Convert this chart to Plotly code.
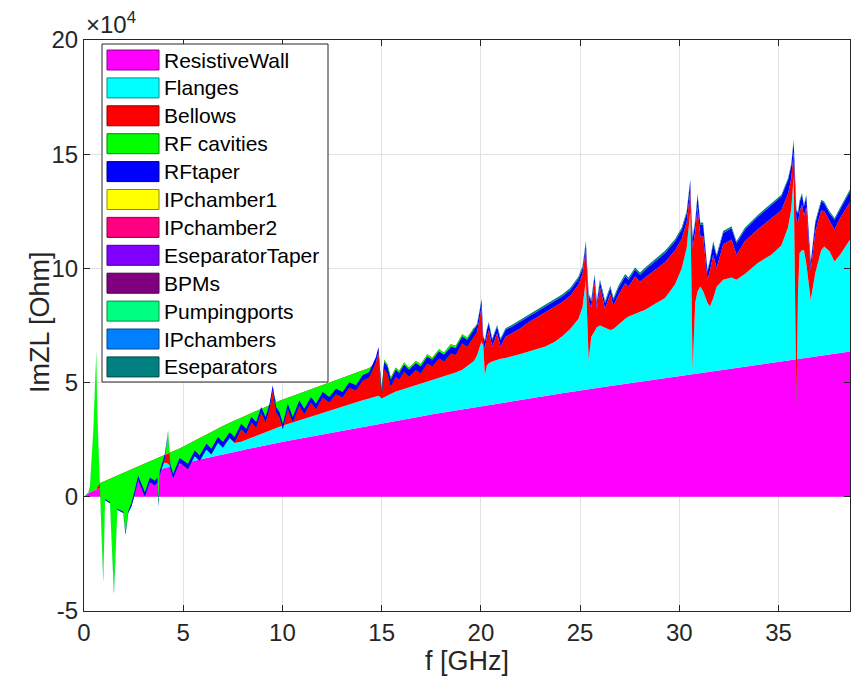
import plotly.graph_objects as go

# ---------------- data (impedance in units of 1e4 Ohm) ----------------
FREQ = [
    0.00, 0.22, 0.30, 0.47, 0.56, 0.62, 0.67, 0.80, 0.97, 1.06,
    1.31, 1.51, 1.68, 1.98, 2.09, 2.23, 2.39, 2.56, 2.73, 3.07,
    3.32, 3.57, 3.70, 3.75, 3.82, 4.07, 4.24, 4.35, 4.49, 4.82,
    5.24, 5.58, 5.83, 6.17, 6.42, 6.75, 7.00, 7.34, 7.59, 7.92,
    8.18, 8.43, 8.68, 8.93, 9.15, 9.35, 9.51, 9.68, 9.85, 10.02,
    10.27, 10.52, 10.85, 11.10, 11.44, 11.69, 12.03, 12.36, 12.70, 13.03,
    13.37, 13.70, 14.04, 14.37, 14.71, 14.84, 15.00,
    15.13, 15.29, 15.46, 15.71, 15.88, 16.13, 16.38, 16.72, 16.97, 17.30,
    17.55, 17.89, 18.14, 18.48, 18.73, 19.06, 19.31, 19.65,
    19.81, 19.95, 20.03, 20.12, 20.20, 20.30, 20.40, 20.57, 20.82, 20.99,
    21.24, 21.57, 22.00,
    22.41, 22.80, 23.25, 23.70, 24.09, 24.50, 24.92, 25.12, 25.29, 25.36, 25.43,
    25.56, 25.73, 25.84, 26.00, 26.26, 26.52, 26.68,
    26.93, 27.27, 27.44, 27.77, 28.02, 28.28, 28.78, 29.28, 29.78, 30.12,
    30.37, 30.55, 30.60, 30.67,
    30.80, 30.92, 31.06, 31.20, 31.42, 31.54, 31.71, 31.88, 32.21, 32.63,
    32.88, 33.30, 33.97, 34.64, 35.14, 35.48, 35.64, 35.76, 35.83, 35.90,
    35.98, 36.06, 36.18, 36.28, 36.40, 36.62, 36.85, 37.15, 37.30, 37.57,
    37.82, 38.10, 38.60,
]

RESISTIVE_WALL = [
    0.00, 0.15, 0.19, 0.27, 0.30, 0.33, 0.34, 0.39, 0.45, 0.48,
    0.55, 0.62, 0.67, 0.75, 0.78, 0.82, 0.86, 0.90, 0.95, 1.03,
    1.09, 1.15, 1.18, 1.18, 1.20, 1.26, 1.30, 1.32, 1.35, 1.42,
    1.51, 1.58, 1.63, 1.70, 1.75, 1.81, 1.86, 1.93, 1.97, 2.03,
    2.08, 2.13, 2.17, 2.22, 2.26, 2.29, 2.32, 2.35, 2.38, 2.41,
    2.45, 2.50, 2.55, 2.59, 2.65, 2.69, 2.75, 2.80, 2.86, 2.91,
    2.97, 3.02, 3.07, 3.12, 3.18, 3.19, 3.22,
    3.24, 3.26, 3.29, 3.33, 3.36, 3.40, 3.43, 3.48, 3.52, 3.57,
    3.61, 3.66, 3.69, 3.74, 3.78, 3.83, 3.86, 3.91,
    3.93, 3.96, 3.97, 3.98, 3.99, 4.00, 4.02, 4.04, 4.07, 4.10,
    4.13, 4.18, 4.25,
    4.30, 4.36, 4.42, 4.48, 4.53, 4.59, 4.64, 4.67, 4.69, 4.70, 4.71,
    4.72, 4.74, 4.76, 4.79, 4.82, 4.85, 4.87,
    4.90, 4.95, 4.97, 5.01, 5.05, 5.08, 5.14, 5.21, 5.27, 5.32,
    5.35, 5.37, 5.38, 5.39,
    5.40, 5.42, 5.44, 5.45, 5.48, 5.50, 5.52, 5.54, 5.58, 5.63,
    5.66, 5.72, 5.80, 5.88, 5.94, 5.98, 6.00, 6.02, 6.03, 6.03,
    6.04, 6.05, 6.06, 6.07, 6.09, 6.11, 6.14, 6.18, 6.20, 6.23,
    6.26, 6.30, 6.36,
]

FLANGES = [
    0.00, 0.00, 0.00, 0.00, 0.00, 0.00, 0.00, 0.00, 0.00, 0.00,
    0.00, 0.00, 0.00, 0.00, 0.00, 0.00, 0.00, 0.00, 0.00, 0.00,
    0.00, 0.00, 0.00, 0.00, 0.00, 0.24, 0.15, 0.00, 0.00, 0.00,
    0.00, 0.19, 0.00, 0.36, 0.09, 0.55, 0.28, 0.64, 0.39, 0.38,
    0.42, 0.46, 0.50, 0.54, 0.58, 0.62, 0.64, 0.67, 0.70, 0.71,
    0.74, 0.76, 0.79, 0.82, 0.85, 0.88, 0.93, 0.98, 1.02, 1.07,
    1.10, 1.13, 1.16, 1.18, 1.20, 1.23, 1.08,
    1.12, 1.17, 1.21, 1.28, 1.29, 1.32, 1.36, 1.39, 1.42, 1.46,
    1.48, 1.52, 1.56, 1.62, 1.66, 1.73, 1.86, 2.04,
    2.27, 2.64, 2.83, 2.62, 1.35, 1.75, 1.83, 1.88, 1.93, 1.94,
    1.95, 1.96, 2.00,
    2.06, 2.11, 2.16, 2.30, 2.49, 2.76, 3.16, 3.63, 4.81, 3.30, 1.29,
    2.28, 2.56, 2.66, 2.71, 2.58, 2.45, 2.48,
    2.65, 2.85, 2.92, 3.01, 3.07, 3.11, 3.31, 3.49, 4.03, 4.68,
    5.55, 7.13, 4.62, 0.21,
    3.10, 3.58, 3.77, 3.55, 3.02, 2.83, 3.18, 3.66, 3.92, 3.97,
    3.84, 4.03, 4.45, 4.72, 5.06, 5.82, 6.60, 7.98, 2.97, -2.08,
    2.96, 4.62, 4.74, 4.74, 4.11, 2.51, 3.66, 4.62, 4.76, 4.52,
    4.04, 4.30, 4.90,
]

BELLOWS = [
    0.00, 0.00, 0.00, 0.00, 0.00, 0.00, 0.11, 0.21, 0.21, 0.22,
    0.24, 0.25, 0.26, 0.29, 0.31, 0.32, 0.34, 0.36, 0.38, 0.42,
    0.46, 0.49, 0.51, 0.53, 0.53, 0.33, 0.44, 0.62, 0.64, 0.70,
    0.80, 0.70, 0.96, 0.69, 1.02, 0.64, 0.96, 0.67, 0.97, 1.06,
    1.07, 1.07, 1.09, 1.09, 1.10, 1.10, 1.68, 1.12, 1.12, 1.13,
    1.15, 1.16, 1.18, 1.19, 1.21, 1.22, 1.22, 1.22, 1.22, 1.22,
    1.24, 1.27, 1.30, 1.34, 1.50, 1.90, 0.40,
    1.64, 1.37, 0.72, 1.05, 0.87, 1.16, 0.87, 1.08, 0.87, 1.21,
    1.01, 1.28, 1.07, 1.32, 1.17, 1.56, 1.25, 1.46,
    1.03, 1.29, 1.52, 0.10, 1.16, 1.25, 1.45, 0.65, 1.16, 0.53,
    0.93, 1.02, 1.13,
    1.28, 1.38, 1.50, 1.52, 1.50, 1.45, 1.50, 1.45, 1.35, 1.55, 2.55,
    1.30, 2.10, 0.81, 1.68, 0.83, 1.59, 1.02,
    1.29, 1.55, 1.31, 1.62, 1.30, 1.41, 1.50, 1.57, 1.48, 1.29,
    1.12, 0.90, 2.10, 5.30,
    3.10, 3.70, 2.19, 2.41, 1.00, 1.57, 1.90, 0.82, 1.55, 1.66,
    1.10, 1.44, 1.47, 1.60, 1.55, 1.48, 1.35, 1.10, 4.60, 8.15,
    3.00, 1.83, 2.00, 1.49, 2.50, 1.28, 1.80, 1.75, 1.54, 1.35,
    1.40, 1.60, 1.65,
]

RF_CAVITIES = [
    0.00, 0.02, 0.26, 2.66, 4.70, 6.03, 3.21, 0.00, -4.36, -0.85,
    -1.07, -5.09, -1.50, -1.75, -2.75, -1.85, -1.62, -1.16, -0.61, -1.45,
    -0.91, -1.14, -1.05, -2.13, -0.79, -0.17, 0.97, -0.71, -1.19, -0.62,
    -1.10, -0.68, -1.02, -0.67, -1.00, -0.62, -0.94, -0.65, -0.95, -0.51,
    -0.83, -0.41, -0.73, -0.16, -0.69, -0.18, 0.00, -0.45, -0.73, -1.29,
    -0.51, -1.17, -0.54, -0.99, -0.58, -0.96, -0.55, -0.87, -0.61, -0.85,
    -0.53, -0.78, -0.45, -0.42, 0.00, 0.00, -0.34,
    -0.40, -0.40, -0.40, -0.40, -0.40, -0.40, -0.40, -0.40, -0.40, -0.40,
    -0.40, -0.40, -0.40, -0.40, -0.40, -0.40, -0.40, -0.40,
    0.00, 0.00, 0.00, 0.00, 0.00, 0.00, 0.00, 0.00, 0.00, 0.00,
    0.00, 0.00, 0.00,
    0.00, 0.00, 0.00, 0.00, 0.00, 0.00, 0.00, 0.00, 0.00, 0.00, 0.00,
    0.00, 0.00, 0.00, 0.00, 0.00, 0.00, 0.00,
    0.00, 0.00, 0.00, 0.00, 0.00, 0.00, 0.00, 0.00, 0.00, 0.00,
    0.00, 0.00, 0.00, 0.00,
    0.00, 0.00, 0.00, 0.00, 0.00, 0.00, 0.00, 0.00, 0.00, 0.00,
    0.00, 0.00, 0.00, 0.00, 0.00, 0.00, 0.00, 0.00, 0.00, 0.00,
    0.00, 0.00, 0.00, 0.00, 0.00, 0.00, 0.00, 0.00, 0.00, 0.00,
    0.00, 0.00, 0.00,
]

RF_TAPER = [
    0.00, 0.02, 0.02, 0.03, 0.03, 0.04, 0.03, 0.03, 0.10, 0.05,
    0.05, 0.10, 0.05, 0.05, 0.10, 0.08, 0.15, 0.20, 0.20, 0.20,
    0.20, 0.20, 0.20, 0.15, 0.20, 0.20, 0.03, 0.20, 0.20, 0.20,
    0.24, 0.24, 0.24, 0.24, 0.24, 0.24, 0.24, 0.24, 0.24, 0.24,
    0.24, 0.24, 0.24, 0.24, 0.24, 0.24, 0.24, 0.24, 0.24, 0.24,
    0.24, 0.24, 0.24, 0.24, 0.24, 0.24, 0.24, 0.24, 0.24, 0.24,
    0.24, 0.24, 0.24, 0.24, 0.24, 0.24, 0.24,
    0.30, 0.30, 0.30, 0.30, 0.30, 0.30, 0.30, 0.30, 0.30, 0.30,
    0.30, 0.30, 0.30, 0.30, 0.30, 0.30, 0.30, 0.30,
    0.30, 0.30, 0.30, 0.30, 0.30, 0.30, 0.30, 0.30, 0.30, 0.30,
    0.30, 0.30, 0.30,
    0.25, 0.25, 0.25, 0.25, 0.25, 0.25, 0.25, 0.25, 0.25, 0.25, 0.25,
    0.25, 0.25, 0.25, 0.25, 0.25, 0.25, 0.25,
    0.30, 0.30, 0.30, 0.30, 0.30, 0.34, 0.35, 0.40, 0.40, 0.40,
    0.40, 0.40, 0.40, 0.40,
    0.40, 0.48, 0.50, 0.50, 0.35, 0.40, 0.50, 0.50, 0.50, 0.50,
    0.50, 0.50, 0.55, 0.58, 0.60, 0.60, 0.55, 0.46, 0.40, 0.40,
    0.40, 0.40, 0.42, 0.41, 0.45, 0.33, 0.38, 0.38, 0.35, 0.32,
    0.43, 0.40, 0.47,
]

ESEP_FREQ = [0.0, 18.5, 20.0, 23.0, 25.0, 30.0, 35.0, 38.6]
ESEPARATORS = [0.00, 0.00, 0.06, 0.08, 0.10, 0.10, 0.08, 0.08]

ZERO_FREQ = [0.0, 38.6]
ZERO_VALUES = [0.0, 0.0]

NAMES = ["ResistiveWall", "Flanges", "Bellows", "RF cavities", "RFtaper",
         "IPchamber1", "IPchamber2", "EseparatorTaper", "BPMs",
         "Pumpingports", "IPchambers", "Eseparators"]
COLORS = ["#FF00FF", "#00FFFF", "#FF0000", "#00FF00", "#0000FF",
          "#FFFF00", "#FF0080", "#8000FF", "#800080",
          "#00FF80", "#0080FF", "#008080"]

X_TICKS = [0, 5, 10, 15, 20, 25, 30, 35]
Y_TICKS = [-5, 0, 5, 10, 15, 20]

SERIES = {
    "ResistiveWall": (FREQ, RESISTIVE_WALL),
    "Flanges": (FREQ, FLANGES),
    "Bellows": (FREQ, BELLOWS),
    "RF cavities": (FREQ, RF_CAVITIES),
    "RFtaper": (FREQ, RF_TAPER),
    "Eseparators": (ESEP_FREQ, ESEPARATORS),
}

# ---------------- figure ----------------
FONT = "Liberation Sans, Arial, Helvetica, sans-serif"
W, H = 856, 685
L, R, T, B = 84, 850, 40, 611   # plot area in pixels


def px_x(px):
    return (px - L) / (R - L)


def px_y(py):
    return (B - py) / (B - T)


def darker(hexcol, k=0.55):
    r, g, b = (int(hexcol[i:i + 2], 16) for i in (1, 3, 5))
    return "rgb(%d,%d,%d)" % (r * k, g * k, b * k)


fig = go.Figure()
for i, (name, color) in enumerate(zip(NAMES, COLORS)):
    x, y = SERIES.get(name, (ZERO_FREQ, ZERO_VALUES))
    kw = dict(stackgaps="interpolate") if i == 0 else {}
    fig.add_trace(go.Scatter(
        x=x, y=y, name=name, mode="lines", stackgroup="imz",
        line=dict(width=0, color=color), fillcolor=color,
        showlegend=False, hoverinfo="skip", **kw))

axis_common = dict(
    ticks="inside", ticklen=6, tickwidth=1, tickcolor="#262626",
    showline=True, linecolor="#262626", linewidth=1, mirror="allticks",
    showgrid=True, gridcolor="#e2e2e2", gridwidth=1, zeroline=False,
    tickfont=dict(size=24, family=FONT, color="#262626"), automargin=False,
)
fig.update_xaxes(range=[0, 38.6], tickvals=X_TICKS,
                 ticktext=[str(v) for v in X_TICKS], **axis_common)
fig.update_yaxes(range=[-5, 20], tickvals=Y_TICKS,
                 ticktext=[str(v) for v in Y_TICKS], **axis_common)

fig.update_layout(
    width=W, height=H,
    margin=dict(l=L, r=W - R, t=T, b=H - B, pad=0),
    paper_bgcolor="white", plot_bgcolor="white",
    showlegend=False, font=dict(family=FONT, color="#262626"),
)

annotations = [
    dict(text="f [GHz]", x=0.5, y=px_y(661), xref="paper", yref="paper",
         xanchor="center", yanchor="middle", showarrow=False,
         font=dict(size=27, family=FONT, color="#262626")),
    dict(text="ImZL [Ohm]", x=px_x(40), y=px_y(322), xref="paper", yref="paper",
         xanchor="center", yanchor="middle", textangle=-90, showarrow=False,
         font=dict(size=27, family=FONT, color="#262626")),
    dict(text="×10<sup>4</sup>", x=0, y=1, xref="paper", yref="paper",
         xanchor="left", yanchor="bottom", showarrow=False,
         font=dict(size=24, family=FONT, color="#262626")),
]

shapes = [dict(type="rect", xref="paper", yref="paper",
               x0=px_x(102), x1=px_x(328), y0=px_y(382), y1=px_y(44),
               fillcolor="white", line=dict(color="#262626", width=1))]
for i, (name, color) in enumerate(zip(NAMES, COLORS)):
    cy = 60 + 27.9 * i
    shapes.append(dict(type="rect", xref="paper", yref="paper",
                       x0=px_x(107), x1=px_x(159), y0=px_y(cy + 10), y1=px_y(cy - 10),
                       fillcolor=color, line=dict(color=darker(color), width=1)))
    annotations.append(dict(text=name, x=px_x(162), y=px_y(cy), xref="paper", yref="paper",
                            xanchor="left", yanchor="middle", showarrow=False,
                            font=dict(size=21, family=FONT, color="#000000")))

fig.update_layout(shapes=shapes, annotations=annotations)
fig.write_html("out.html")
